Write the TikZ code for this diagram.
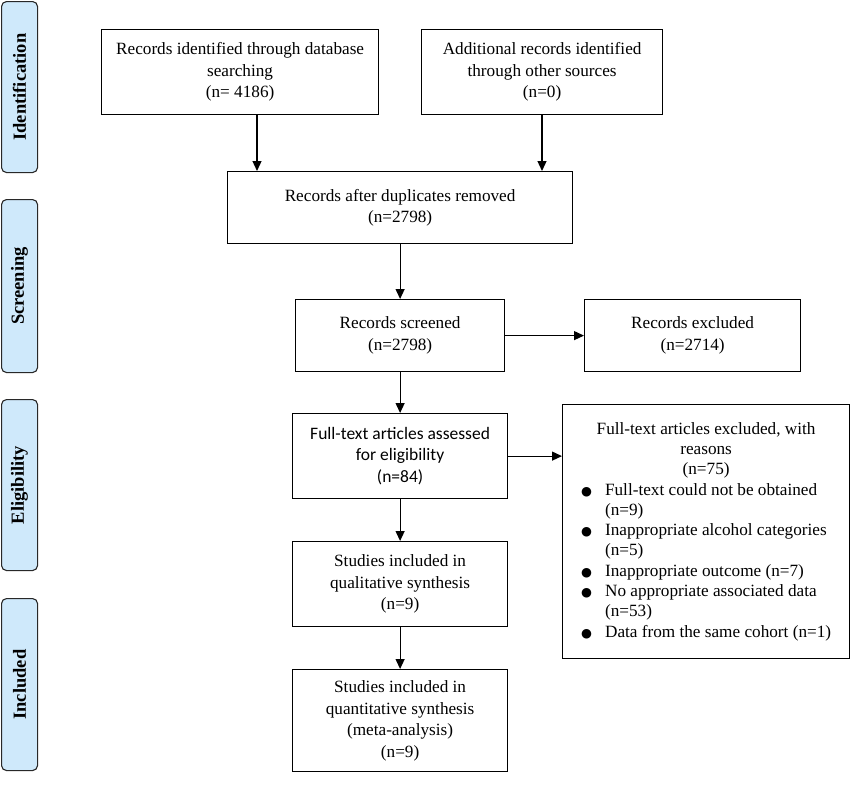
\documentclass[tikz,border=0pt]{standalone}
\usepackage{fontspec}
\setmainfont{Liberation Serif}
\newfontfamily\calibri{Carlito}
\newfontfamily\dejavu{DejaVu Sans}
\usetikzlibrary{arrows.meta}
\definecolor{phasefill}{RGB}{207,233,251}
\definecolor{phasedraw}{RGB}{40,40,40}
\tikzset{
  box/.style={draw=black, line width=1.2pt, anchor=north west, align=center,
    inner sep=0pt, font=\fontsize{17.2}{21.5}\selectfont},
  phase/.style={draw=phasedraw, fill=phasefill, line width=1.1pt, rounded corners=5pt,
    anchor=north west, minimum width=36, inner sep=0pt},
  phasetext/.style={rotate=90, font=\bfseries\fontsize{18.5}{20}\selectfont},
  arr/.style={line width=1.2pt, -{Triangle[length=10pt,width=9pt]}},
}
\newcommand{\bul}{{\dejavu\fontsize{12.5}{12}\selectfont ●}}
\begin{document}
\begin{tikzpicture}[x=1pt,y=-1pt]
\useasboundingbox (0,0) rectangle (850,785);
% phases
\node[phase, minimum height=171] (pid) at (1,1) {};
\node[phasetext] (tid) at (pid.center) {Identification};
\node[phase, minimum height=173] (psc) at (1,199) {};
\node[phasetext] (tsc) at (psc.center) {Screening};
\node[phase, minimum height=171] (pel) at (1,399) {};
\node[phasetext] (tel) at (pel.center) {Eligibility};
\node[phase, minimum height=172] (pin) at (1,598) {};
\node[phasetext] (tin) at (pin.center) {Included};
% boxes
\node[box, minimum width=277, minimum height=85] (db) at (101,29)
  {Records identified through database\\searching\\(n= 4186)};
\node[box, minimum width=241, minimum height=85] (other) at (421,29)
  {Additional records identified\\through other sources\\(n=0)};
\node[box, minimum width=345, minimum height=72] (dup) at (227,171)
  {Records after duplicates removed\\(n=2798)};
\node[box, minimum width=209, minimum height=72] (scr) at (295,299)
  {Records screened\\(n=2798)};
\node[box, minimum width=216, minimum height=72] (rex) at (584,299)
  {Records excluded\\(n=2714)};
\node[box, minimum width=215, minimum height=85, font=\calibri\fontsize{17.5}{21.5}\selectfont] (ft) at (292,413)
  {Full-text articles assessed\\for eligibility\\(n=84)};
\node[box, minimum width=287, minimum height=254, font=\fontsize{17.2}{20.3}\selectfont] (fex) at (562,404)
  {\begin{tabular}{@{}c@{}}Full-text articles excluded, with\\reasons\\(n=75)\end{tabular}\\[-1pt]
   \begin{tabular}{@{}p{24pt}@{}l@{}}
   \bul & Full-text could not be obtained\\
        & (n=9)\\
   \bul & Inappropriate alcohol categories\\
        & (n=5)\\
   \bul & Inappropriate outcome (n=7)\\
   \bul & No appropriate associated data\\
        & (n=53)\\
   \bul & Data from the same cohort (n=1)
   \end{tabular}};
\node[box, minimum width=215, minimum height=85] (qual) at (292,541)
  {Studies included in\\qualitative synthesis\\(n=9)};
\node[box, minimum width=215, minimum height=102] (quant) at (292,669)
  {Studies included in\\quantitative synthesis\\(meta-analysis)\\(n=9)};
% connectors
\coordinate (c1) at (257,0);
\coordinate (c2) at (542,0);
\draw[arr] (c1 |- db.south) -- (c1 |- dup.north);
\draw[arr] (c2 |- other.south) -- (c2 |- dup.north);
\draw[arr] (dup.south) -- (scr.north);
\draw[arr] (scr.east) -- (rex.west);
\draw[arr] (scr.south) -- (ft.north);
\draw[arr] (ft.east) -- (ft.east -| fex.west);
\draw[arr] (ft.south) -- (qual.north);
\draw[arr] (qual.south) -- (quant.north);
\end{tikzpicture}
\end{document}
